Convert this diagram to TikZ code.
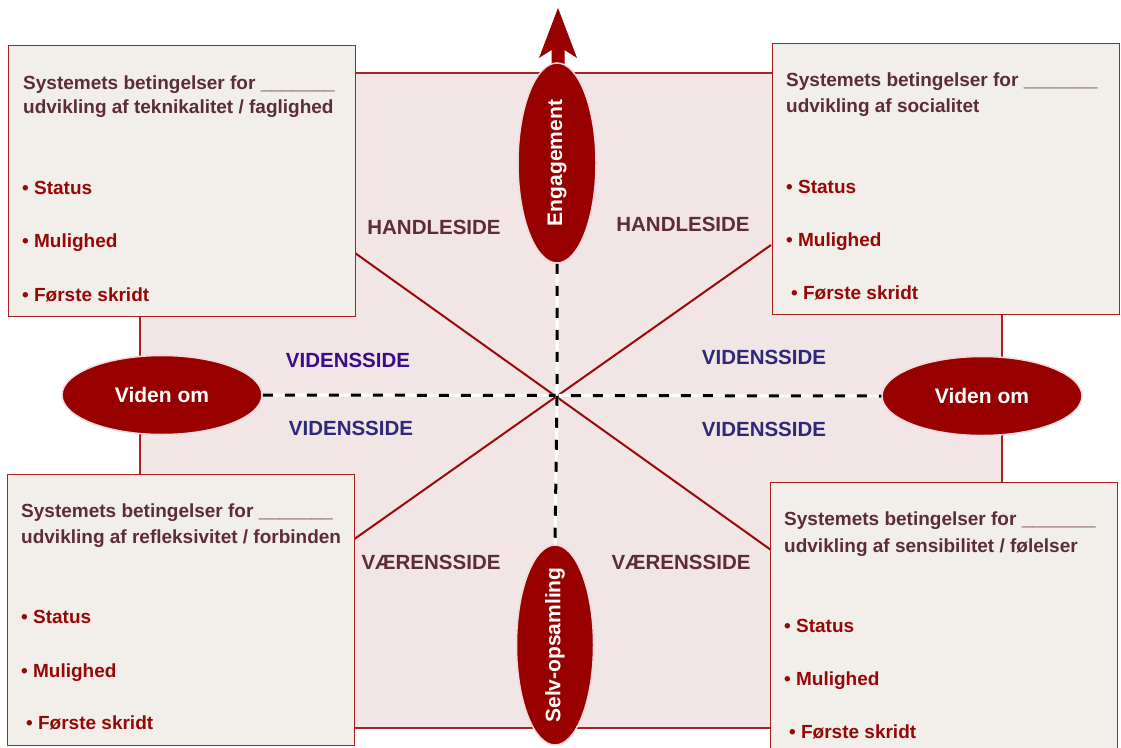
\documentclass[tikz,border=0pt]{standalone}
\usepackage{fontspec}
\setmainfont{Liberation Sans}
\usetikzlibrary{shapes.geometric}
\definecolor{pinkbg}{RGB}{242,229,229}
\definecolor{boxbg}{RGB}{242,238,234}
\definecolor{framered}{RGB}{172,32,32}
\definecolor{ovalred}{RGB}{152,0,0}
\definecolor{ovaledge}{RGB}{242,218,218}
\definecolor{diagred}{RGB}{155,10,10}
\definecolor{titlecol}{RGB}{92,44,58}
\definecolor{bulletred}{RGB}{150,8,8}
\definecolor{vidA}{RGB}{58,12,140}
\definecolor{vidB}{RGB}{46,40,120}
\tikzset{
  infobox/.style={draw=framered, line width=1.4pt, fill=boxbg, anchor=north west,
    minimum width=347pt, minimum height=271pt, inner sep=0pt},
  boxtitle/.style={anchor=base west, inner sep=0pt, text=titlecol,
    font=\fontsize{19}{23}\selectfont\bfseries},
  boxitem/.style={anchor=base west, inner sep=0pt, text=bulletred,
    font=\fontsize{19}{23}\selectfont\bfseries},
  sidelabel/.style={anchor=base, inner sep=0pt, font=\fontsize{20.5}{24}\selectfont\bfseries},
  oval/.style={ellipse, fill=ovalred, draw=ovaledge, line width=1.5pt, inner sep=0pt,
    text=white, font=\fontsize{21}{25}\selectfont\bfseries},
  ovaltext/.style={inner sep=0pt, text=white, font=\fontsize{21}{25}\selectfont\bfseries},
  diag/.style={draw=diagred, line width=2pt},
  dashwhite/.style={draw=white, line width=3pt},
  dashblack/.style={draw=black, line width=3pt, dash pattern=on 10pt off 12pt},
}
\begin{document}
\begin{tikzpicture}[x=1pt,y=-1pt]
\clip (0,0) rectangle (1121,747);
\fill[white] (0,0) rectangle (1121,747);
% background quadrant field
\draw[draw=framered, line width=1.4pt, fill=pinkbg] (140,73) rectangle (1002,728);

% diagonals
\coordinate (d1a) at (355,253);
\coordinate (d1b) at (771,550);
\coordinate (d2a) at (353,540);
\coordinate (d2b) at (771,245);
\coordinate (mid) at (557,397);
\draw[diag] (d1a) -- (d1b);
\draw[diag] (d2a) -- (d2b);

% ellipses
\node[oval, minimum width=200pt, minimum height=79pt] (vl) at (162,395) {Viden om};
\node[oval, minimum width=200pt, minimum height=79pt] (vr) at (982,396) {Viden om};
\fill[ovalred] (551.5,80) -- (551.5,50) -- (539,58) -- (558,8) -- (577,58) -- (564.5,50) -- (564.5,80) -- cycle;
\node[oval, minimum width=78pt, minimum height=200pt] (eng) at (557,163) {};
\node[oval, minimum width=77pt, minimum height=200pt] (selv) at (555,645) {};
\node[ovaltext, rotate=90] (engT) at (eng.center) {Engagement};
\node[ovaltext, rotate=90] (selvT) at (selv.center) {Selv-opsamling};

% dashed axes
\draw[dashwhite] (vl.east) -- (vr.west);
\draw[dashblack] (vl.east) -- (vr.west);
\draw[dashwhite] (eng.south) -- (mid) -- (selv.north);
\draw[dashblack] (eng.south) -- (mid) -- (selv.north);

% boxes
\node[infobox] (bTL) at (8,45) {};
\node[infobox] (bTR) at (772,43) {};
\node[infobox] (bBL) at (7,474) {};
\node[infobox] (bBR) at (770,482) {};

% top-left box text
\node[boxtitle] (tl1) at (23,89) {Systemets betingelser for \_\_\_\_\_\_\_};
\node[boxtitle] (tl2) at (23,113) {udvikling af teknikalitet / faglighed};
\node[boxitem] (tl3) at (22,194) {• Status};
\node[boxitem] (tl4) at (22,247) {• Mulighed};
\node[boxitem] (tl5) at (22,301) {• Første skridt};

% top-right box text
\node[boxtitle] (tr1) at (786,86) {Systemets betingelser for \_\_\_\_\_\_\_};
\node[boxtitle] (tr2) at (786,112) {udvikling af socialitet};
\node[boxitem] (tr3) at (786,193) {• Status};
\node[boxitem] (tr4) at (786,246) {• Mulighed};
\node[boxitem] (tr5) at (791,299) {• Første skridt};

% bottom-left box text
\node[boxtitle] (bl1) at (21,517) {Systemets betingelser for \_\_\_\_\_\_\_};
\node[boxtitle] (bl2) at (21,543) {udvikling af refleksivitet / forbinden};
\node[boxitem] (bl3) at (21,623) {• Status};
\node[boxitem] (bl4) at (21,677) {• Mulighed};
\node[boxitem] (bl5) at (26,729) {• Første skridt};

% bottom-right box text
\node[boxtitle] (br1) at (784,525) {Systemets betingelser for \_\_\_\_\_\_\_};
\node[boxtitle] (br2) at (784,552) {udvikling af sensibilitet / følelser};
\node[boxitem] (br3) at (784,632) {• Status};
\node[boxitem] (br4) at (784,685) {• Mulighed};
\node[boxitem] (br5) at (789,738) {• Første skridt};

% side labels
\node[sidelabel, text=titlecol] (h1) at (434,234) {HANDLESIDE};
\node[sidelabel, text=titlecol] (h2) at (683,231) {HANDLESIDE};
\node[sidelabel, text=vidA] (v1) at (348,367) {VIDENSSIDE};
\node[sidelabel, text=vidB] (v2) at (764,364) {VIDENSSIDE};
\node[sidelabel, text=vidB] (v3) at (351,435) {VIDENSSIDE};
\node[sidelabel, text=vidB] (v4) at (764,436) {VIDENSSIDE};
\node[sidelabel, text=titlecol] (w1) at (431,569) {VÆRENSSIDE};
\node[sidelabel, text=titlecol] (w2) at (681,569) {VÆRENSSIDE};
\end{tikzpicture}
\end{document}
